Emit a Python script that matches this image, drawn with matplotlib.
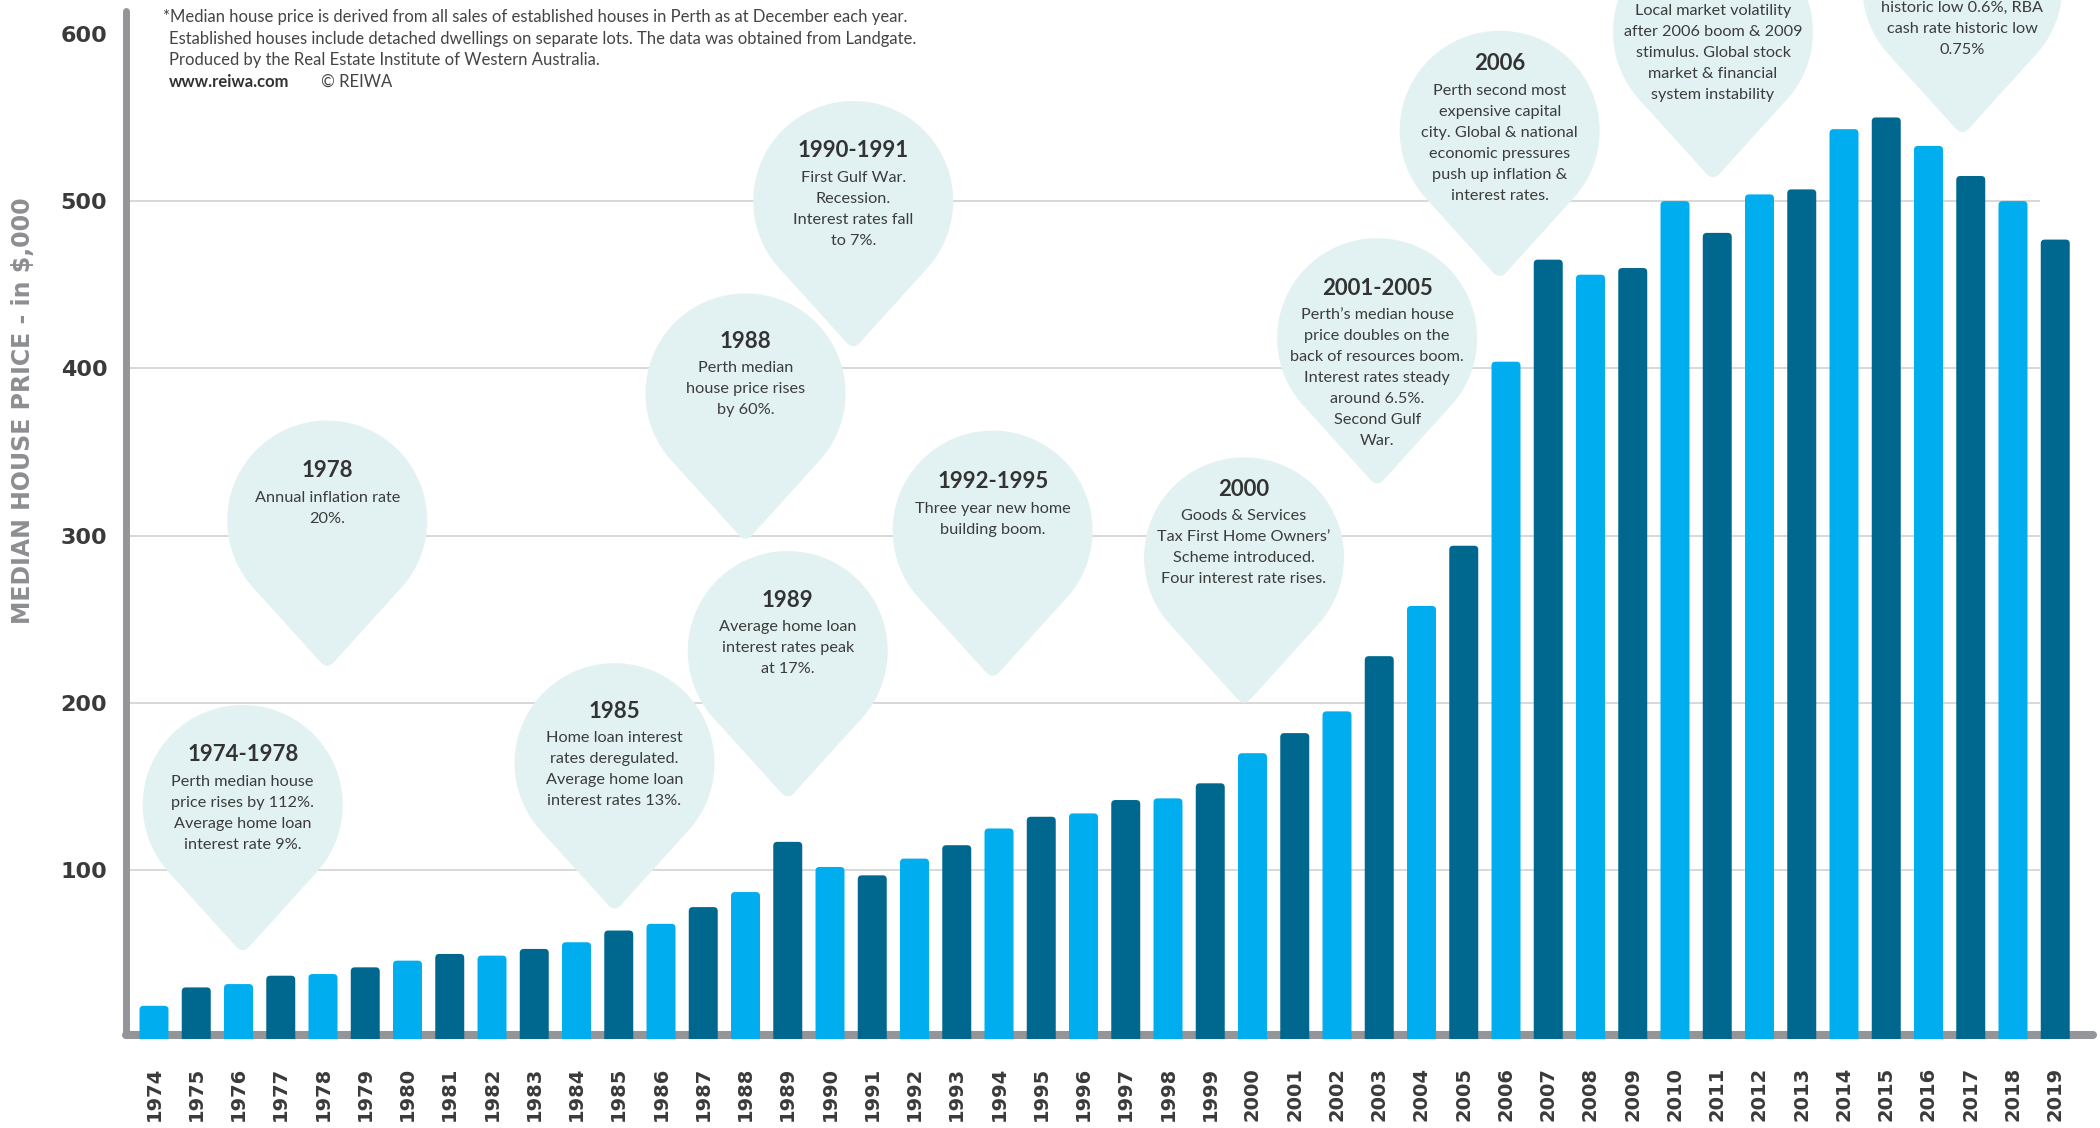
import numpy as np
import matplotlib
matplotlib.use("Agg")
import matplotlib.pyplot as plt
from matplotlib.patches import FancyBboxPatch, PathPatch
from matplotlib.path import Path
from matplotlib.transforms import Affine2D, ScaledTranslation

# ---------------- data ----------------
years = list(range(1974, 2020))
prices = [19, 30, 32, 37, 38, 42, 46, 50, 49, 53,
          57, 64, 68, 78, 87, 117, 102, 97, 107, 115,
          125, 132, 134, 142, 143, 152, 170, 182, 195, 228,
          258, 294, 404, 465, 456, 460, 500, 481, 504, 507,
          543, 550, 533, 515, 500, 477]
y_ticks = [100, 200, 300, 400, 500, 600]

# callout pins: anchor (year, value) of the pin tip, title, body lines
pin_years = [1976.1, 1978.1, 1984.9, 1988.0, 1989.0, 1990.55, 1993.85,
             1999.8, 2002.95, 2005.85, 2010.9, 2016.8]
pin_values = [50, 220, 75, 296, 142, 411, 214, 198, 329, 453, 512, 539]
pin_titles = ["1974-1978", "1978", "1985", "1988", "1989", "1990-1991",
              "1992-1995", "2000", "2001-2005", "2006", None, None]
pin_texts = [
    ["Perth median house", "price rises by 112%.", "Average home loan", "interest rate 9%."],
    ["Annual inflation rate", "20%."],
    ["Home loan interest", "rates deregulated.", "Average home loan", "interest rates 13%."],
    ["Perth median", "house price rises", "by 60%."],
    ["Average home loan", "interest rates peak", "at 17%."],
    ["First Gulf War.", "Recession.", "Interest rates fall", "to 7%."],
    ["Three year new home", "building boom."],
    ["Goods & Services", "Tax First Home Owners\u2019", "Scheme introduced.", "Four interest rate rises."],
    ["Perth\u2019s median house", "price doubles on the", "back of resources boom.",
     "Interest rates steady", "around 6.5%.", "Second Gulf", "War."],
    ["Perth second most", "expensive capital", "city. Global & national",
     "economic pressures", "push up inflation &", "interest rates."],
    ["Local market volatility", "after 2006 boom & 2009", "stimulus. Global stock",
     "market & financial", "system instability"],
    ["historic low 0.6%, RBA", "cash rate historic low", "0.75%"],
]
# first body line offset from pin centre (pixels, downward positive)
pin_first_line = [-23, -23, -25, -25, -24, -23, -22, -41, -23, -40, -21, 21]

note_lines = [
    "*Median house price is derived from all sales of established houses in Perth as at December each year.",
    "Established houses include detached dwellings on separate lots. The data was obtained from Landgate.",
    "Produced by the Real Estate Institute of Western Australia.",
]

# ---------------- style ----------------
LIGHT = "#00AEEF"
DARK = "#00688F"
PIN = "#E2F2F3"
AXIS_GRAY = "#939598"
GRID = "#D6D6D6"
TXT = "#3C3C3C"
BODY_FONT = ["Lato", "DejaVu Sans"]

W, H, DPI = 2100, 1128, 100
fig = plt.figure(figsize=(W / DPI, H / DPI), dpi=DPI)
fig.patch.set_facecolor("white")

px_x = 42.25          # pixels per year
px_y = 1.673          # pixels per $1000
left_px = 126
ax_bottom_px = 1039
x0 = -(154 - left_px) / px_x
x1 = x0 + (W - left_px) / px_x
y0 = (1037.6 - ax_bottom_px) / px_y
y1 = 1037.6 / px_y

ax = fig.add_axes([left_px / W, 1 - ax_bottom_px / H, (W - left_px) / W, ax_bottom_px / H])
ax.set_xlim(x0, x1)
ax.set_ylim(y0, y1)
for s in ax.spines.values():
    s.set_visible(False)
ax.set_facecolor("none")

idx = np.arange(len(years))

# gridlines
ax.hlines(y_ticks[:-1], x0, 44.65, color=GRID, lw=1.3, zorder=1)

# bars with rounded tops
bw = 0.686
rr = 4 / px_x
for i, (yr, v) in enumerate(zip(years, prices)):
    col = LIGHT if i % 2 == 0 else DARK
    p = FancyBboxPatch((i - bw / 2, -20), bw, v + 20,
                       boxstyle=f"round,pad=0,rounding_size={rr}",
                       mutation_aspect=px_x / px_y,
                       fc=col, ec="none", zorder=5)
    ax.add_patch(p)

# axis lines
ax.plot([x0, (2093 - 154) / px_x], [(1037.6 - 1035) / px_y] * 2, color=AXIS_GRAY,
        lw=5.8, solid_capstyle="round", zorder=4, clip_on=False)
ax.plot([x0, x0], [(1037.6 - 1035) / px_y, (1037.6 - 11) / px_y], color=AXIS_GRAY,
        lw=5.0, solid_capstyle="round", zorder=6, clip_on=False)

# pins
def pin_path(d=1.49, tip_r=0.1, n=160):
    a = np.arccos(1 / d)
    th = np.linspace(-np.pi / 2 + a, 3 * np.pi / 2 - a, n)
    arc = np.column_stack([np.cos(th), d + np.sin(th)])
    ur = arc[0] / np.hypot(*arc[0])
    ul = arc[-1] / np.hypot(*arc[-1])
    pl, pr = ul * tip_r, ur * tip_r
    t = np.linspace(0, 1, 14)[:, None]
    bez = (1 - t) ** 2 * pl + t ** 2 * pr
    verts = np.vstack([arc, bez, arc[:1]])
    return Path(verts, closed=True)

R_PX = 100
D = 1.49
PATH = pin_path(D)
for yr, val, title, lines, f0 in zip(pin_years, pin_values, pin_titles, pin_texts, pin_first_line):
    xi = yr - years[0]
    tr = Affine2D().scale(R_PX / DPI) + fig.dpi_scale_trans + ScaledTranslation(xi, val, ax.transData)
    ax.add_patch(PathPatch(PATH, transform=tr, fc=PIN, ec="none", zorder=2, clip_on=False))
    cy = R_PX * D
    if title:
        ax.annotate(title, xy=(xi, val), xytext=(0, cy - (f0 - 27)), textcoords="offset pixels",
                    ha="center", va="center", fontsize=16, fontweight="bold", color="#333333",
                    family=BODY_FONT, zorder=3, annotation_clip=False)
    for k, line in enumerate(lines):
        ax.annotate(line, xy=(xi, val), xytext=(0, cy - (f0 + 21 * k)), textcoords="offset pixels",
                    ha="center", va="center", fontsize=11.7, color=TXT,
                    family=BODY_FONT, zorder=3, annotation_clip=False)

# ticks
ax.set_xticks(idx)
ax.set_xticklabels([str(y) for y in years], rotation=90, va="top", ha="center",
                   fontsize=14, fontweight="bold", color="#3A3A3A", family="DejaVu Sans")
ax.set_yticks(y_ticks)
ax.set_yticklabels([str(v) for v in y_ticks], fontsize=16, fontweight="bold",
                   color="#3A3A3A", family="DejaVu Sans")
ax.tick_params(axis="x", length=0, pad=20)
ax.tick_params(axis="y", length=0, pad=13.5)

# y label
fig.text(23 / W, 1 - 411 / H, "MEDIAN HOUSE PRICE - in $,000", rotation=90, ha="center", va="center",
         fontsize=17, fontweight="bold", color="#8D8E91", family="DejaVu Sans")

# note
NOTE_FS = 12
fig.text(163 / W, 1 - 17 / H, note_lines[0], ha="left", va="center", fontsize=NOTE_FS,
         color="#444444", family=BODY_FONT)
fig.text(169 / W, 1 - 39 / H, note_lines[1], ha="left", va="center", fontsize=NOTE_FS,
         color="#444444", family=BODY_FONT)
fig.text(169 / W, 1 - 60 / H, note_lines[2], ha="left", va="center", fontsize=NOTE_FS,
         color="#444444", family=BODY_FONT)
fig.text(169 / W, 1 - 82 / H, "www.reiwa.com", ha="left", va="center", fontsize=NOTE_FS,
         fontweight="bold", color="#333333", family=BODY_FONT)
fig.text(321 / W, 1 - 82 / H, "\u00a9 REIWA", ha="left", va="center", fontsize=NOTE_FS,
         color="#444444", family=BODY_FONT)

fig.savefig("out.png", dpi=DPI, facecolor="white")
